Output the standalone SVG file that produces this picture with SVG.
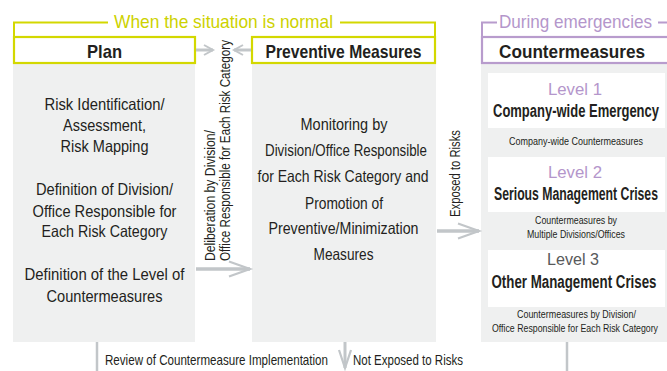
<svg xmlns="http://www.w3.org/2000/svg" width="667" height="371" viewBox="0 0 667 371">
<defs>
<style>
text{font-family:"Liberation Sans",Arial,sans-serif;fill:#231f20}
.b{font-size:16.5px;text-anchor:middle}
.h{font-size:19px;font-weight:bold;text-anchor:middle}
.lv{font-size:18px;font-weight:bold;text-anchor:middle}
.ln{font-size:17px;text-anchor:middle}
.s{font-size:11px;text-anchor:middle}
.v{font-size:15px}
.bt{font-size:14.5px}
.col{fill:#eff0f0}
.lvbox{fill:#ffffff}
.ybox{fill:#fff;stroke:#d3d800;stroke-width:2.2}
.pbox{fill:#fff;stroke:#b89ccd;stroke-width:2.2}
.arr{stroke:#c2c6c9;fill:none}
</style>
<marker id="ahL" markerUnits="userSpaceOnUse" markerWidth="26" markerHeight="20" refX="22" refY="9" orient="auto">
<path d="M1,1.5 L22,9 L1,16.5" fill="none" stroke="#c2c6c9" stroke-width="2.2"/>
</marker>
<marker id="ahS" markerUnits="userSpaceOnUse" markerWidth="14" markerHeight="14" refX="11" refY="6" orient="auto">
<path d="M2,1 L11,6 L2,11" fill="none" stroke="#c2c6c9" stroke-width="2"/>
</marker>
<marker id="ahD" markerUnits="userSpaceOnUse" markerWidth="22" markerHeight="16" refX="19" refY="7" orient="auto">
<path d="M1,1 L19,7 L1,13" fill="none" stroke="#c2c6c9" stroke-width="2.2"/>
</marker>
</defs>
<rect width="667" height="371" fill="#fff"/>

<g id="normal-bracket">
<path d="M14,37 V22.5 H108 M340,22.5 H435 V37" fill="none" stroke="#d3d800" stroke-width="2"/>
<text x="114" y="28" style="font-size:19px;fill:#cdd200" textLength="219" lengthAdjust="spacingAndGlyphs">When the situation is normal</text>
</g>

<g id="emergency-bracket">
<path d="M482,37 V22.5 H497 M658,22.5 H667" fill="none" stroke="#b89ccd" stroke-width="2"/>
<text x="499" y="28" style="font-size:19px;fill:#b496cb" textLength="153" lengthAdjust="spacingAndGlyphs">During emergencies</text>
</g>

<g id="plan">
<rect class="col" x="13" y="63" width="182" height="279"/>
<rect class="ybox" x="14" y="37" width="181" height="26"/>
<text class="h" x="104.5" y="58" textLength="35" lengthAdjust="spacingAndGlyphs">Plan</text>
<text class="b" x="104.5" y="110" textLength="120" lengthAdjust="spacingAndGlyphs">Risk Identification/</text>
<text class="b" x="104.5" y="131" textLength="83" lengthAdjust="spacingAndGlyphs">Assessment,</text>
<text class="b" x="104.5" y="152" textLength="88" lengthAdjust="spacingAndGlyphs">Risk Mapping</text>
<text class="b" x="104.5" y="195" textLength="137" lengthAdjust="spacingAndGlyphs">Definition of Division/</text>
<text class="b" x="104.5" y="216.5" textLength="144" lengthAdjust="spacingAndGlyphs">Office Responsible for</text>
<text class="b" x="104.5" y="237" textLength="126" lengthAdjust="spacingAndGlyphs">Each Risk Category</text>
<text class="b" x="104.5" y="280" textLength="160" lengthAdjust="spacingAndGlyphs">Definition of the Level of</text>
<text class="b" x="104.5" y="302" textLength="116" lengthAdjust="spacingAndGlyphs">Countermeasures</text>
</g>

<g id="preventive">
<rect class="col" x="252" y="63" width="184" height="279"/>
<rect class="ybox" x="252" y="37" width="183" height="26"/>
<text class="h" x="343.5" y="58" textLength="156" lengthAdjust="spacingAndGlyphs">Preventive Measures</text>
<text class="b" x="344" y="130" textLength="87" lengthAdjust="spacingAndGlyphs">Monitoring by</text>
<text class="b" x="346" y="156" textLength="162" lengthAdjust="spacingAndGlyphs">Division/Office Responsible</text>
<text class="b" x="343" y="182" textLength="171" lengthAdjust="spacingAndGlyphs">for Each Risk Category and</text>
<text class="b" x="344" y="209" textLength="78" lengthAdjust="spacingAndGlyphs">Promotion of</text>
<text class="b" x="343.5" y="234" textLength="150" lengthAdjust="spacingAndGlyphs">Preventive/Minimization</text>
<text class="b" x="343.5" y="260" textLength="60" lengthAdjust="spacingAndGlyphs">Measures</text>
</g>

<g id="countermeasures">
<rect class="col" x="481" y="63" width="186" height="279"/>
<rect class="pbox" x="482" y="37" width="190" height="26"/>
<text x="499" y="58" style="font-size:19px;font-weight:bold" textLength="146" lengthAdjust="spacingAndGlyphs">Countermeasures</text>
</g>

<g id="level1">
<rect class="lvbox" x="488" y="73" width="177" height="55"/>
<text class="ln" x="575" y="95" style="fill:#b496cb" textLength="54" lengthAdjust="spacingAndGlyphs">Level 1</text>
<text class="lv" x="576" y="117" textLength="166" lengthAdjust="spacingAndGlyphs">Company-wide Emergency</text>
<text class="s" x="576" y="145" textLength="134" lengthAdjust="spacingAndGlyphs">Company-wide Countermeasures</text>
</g>

<g id="level2">
<rect class="lvbox" x="488" y="157" width="177" height="55"/>
<text class="ln" x="575" y="178" style="fill:#b496cb" textLength="54" lengthAdjust="spacingAndGlyphs">Level 2</text>
<text class="lv" x="576" y="200" textLength="164" lengthAdjust="spacingAndGlyphs">Serious Management Crises</text>
<text class="s" x="576" y="224" textLength="82" lengthAdjust="spacingAndGlyphs">Countermeasures by</text>
<text class="s" x="576" y="237.5" textLength="98" lengthAdjust="spacingAndGlyphs">Multiple Divisions/Offices</text>
</g>

<g id="level3">
<rect class="lvbox" x="488" y="250" width="177" height="57"/>
<text class="ln" x="573" y="265" style="fill:#58595b" textLength="52" lengthAdjust="spacingAndGlyphs">Level 3</text>
<text class="lv" x="574" y="288" textLength="165" lengthAdjust="spacingAndGlyphs">Other Management Crises</text>
<text class="s" x="576.5" y="318" textLength="119" lengthAdjust="spacingAndGlyphs">Countermeasures by Division/</text>
<text class="s" x="575" y="332" textLength="166" lengthAdjust="spacingAndGlyphs">Office Responsible for Each Risk Category</text>
</g>

<g id="connectors">
<line class="arr" x1="196" y1="50" x2="213" y2="50" stroke-width="3" marker-end="url(#ahS)"/>
<line class="arr" x1="251" y1="50" x2="234" y2="50" stroke-width="3" marker-end="url(#ahS)"/>
<line class="arr" x1="196" y1="269" x2="250" y2="269" stroke-width="3.5" marker-end="url(#ahL)"/>
<line class="arr" x1="437" y1="231" x2="479" y2="231" stroke-width="3.5" marker-end="url(#ahL)"/>
<line class="arr" x1="345" y1="342" x2="345" y2="368" stroke-width="3" marker-end="url(#ahD)"/>
<line class="arr" x1="97" y1="342" x2="97" y2="371" stroke-width="2.5"/>
<line class="arr" x1="567" y1="342" x2="567" y2="371" stroke-width="2.5"/>
<text class="v" transform="translate(215,261) rotate(-90)" textLength="131" lengthAdjust="spacingAndGlyphs">Deliberation by Division/</text>
<text class="v" transform="translate(230,261) rotate(-90)" textLength="221" lengthAdjust="spacingAndGlyphs">Office Responsible for Each Risk Category</text>
<text class="v" transform="translate(459.5,217) rotate(-90)" textLength="87" lengthAdjust="spacingAndGlyphs">Exposed to Risks</text>
<text class="bt" x="105" y="365" textLength="223" lengthAdjust="spacingAndGlyphs">Review of Countermeasure Implementation</text>
<text class="bt" x="353" y="365" textLength="110" lengthAdjust="spacingAndGlyphs">Not Exposed to Risks</text>
</g>
</svg>
